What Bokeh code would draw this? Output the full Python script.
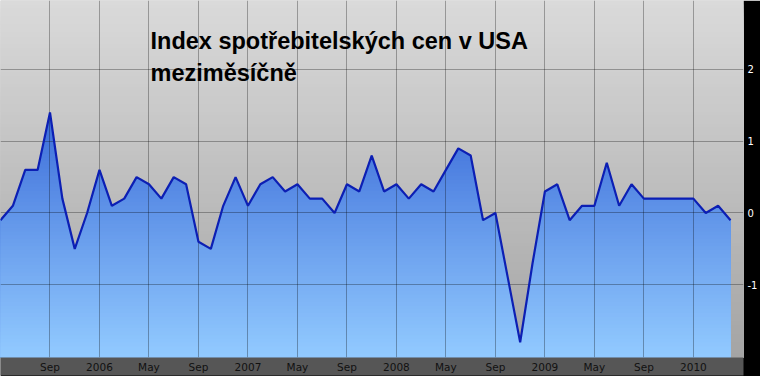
import numpy as np
from bokeh.plotting import figure
from bokeh.models import Range1d, FixedTicker, Label, ColumnDataSource
from bokeh.embed import file_html
from bokeh.resources import INLINE

# ---- data (month-on-month CPI change, %) ----
months = [
    "2005-05", "2005-06", "2005-07", "2005-08", "2005-09", "2005-10", "2005-11", "2005-12",
    "2006-01", "2006-02", "2006-03", "2006-04", "2006-05", "2006-06", "2006-07", "2006-08",
    "2006-09", "2006-10", "2006-11", "2006-12",
    "2007-01", "2007-02", "2007-03", "2007-04", "2007-05", "2007-06", "2007-07", "2007-08",
    "2007-09", "2007-10", "2007-11", "2007-12",
    "2008-01", "2008-02", "2008-03", "2008-04", "2008-05", "2008-06", "2008-07", "2008-08",
    "2008-09", "2008-10", "2008-11", "2008-12",
    "2009-01", "2009-02", "2009-03", "2009-04", "2009-05", "2009-06", "2009-07", "2009-08",
    "2009-09", "2009-10", "2009-11", "2009-12",
    "2010-01", "2010-02", "2010-03", "2010-04",
]
cpi_mom = [
    -0.1, 0.1, 0.6, 0.6, 1.4, 0.2, -0.5, 0.0,
    0.6, 0.1, 0.2, 0.5, 0.4, 0.2, 0.5, 0.4,
    -0.4, -0.5, 0.1, 0.5,
    0.1, 0.4, 0.5, 0.3, 0.4, 0.2, 0.2, 0.0,
    0.4, 0.3, 0.8, 0.3,
    0.4, 0.2, 0.4, 0.3, 0.6, 0.9, 0.8, -0.1,
    0.0, -0.9, -1.8, -0.7,
    0.3, 0.4, -0.1, 0.1, 0.1, 0.7, 0.1, 0.4,
    0.2, 0.2, 0.2, 0.2,
    0.2, 0.0, 0.1, -0.1,
]
tick_index = [0, 4, 8, 12, 16, 20, 24, 28, 32, 36, 40, 44, 48, 52, 56]
tick_labels = ["", "Sep", "2006", "May", "Sep", "2007", "May", "Sep", "2008",
               "May", "Sep", "2009", "May", "Sep", "2010"]
y_ticks = [-1, 0, 1, 2]
y_tick_labels = ["-1", "0", "1", "2"]
title_lines = ["Index spotřebitelských cen v USA", "meziměsíčně"]

# ---- geometry ----
X_MIN, X_MAX = 0.0, 60.05
Y_MIN, Y_MAX = -2.013, 2.96

x = np.arange(len(cpi_mom), dtype=float)
y = np.array(cpi_mom, dtype=float)


def hex_to_rgb(h):
    h = h.lstrip("#")
    return np.array([int(h[i:i + 2], 16) for i in (0, 2, 4)], dtype=float)


def mix(c0, c1, t):
    a, b = hex_to_rgb(c0), hex_to_rgb(c1)
    c = np.clip(np.round(a + (b - a) * t), 0, 255).astype(int)
    return "#%02x%02x%02x" % tuple(c)


p = figure(
    width=760, height=376,
    x_range=Range1d(X_MIN, X_MAX), y_range=Range1d(Y_MIN, Y_MAX),
    y_axis_location="right",
    toolbar_location=None, output_backend="svg",
    min_border_left=0, min_border_top=0, min_border_right=17, min_border_bottom=19,
    border_fill_color="black", background_fill_color="#c0c0c0",
)
p.outline_line_color = None

# ---- background vertical gray gradient (cumulative bands) ----
NB = 90
bg_tops = [Y_MAX - i * (Y_MAX - Y_MIN) / NB for i in range(NB)]
bg_cols = [mix("#dadada", "#a4a4a4", (i + 0.5) / NB) for i in range(NB)]
p.quad(left=X_MIN, right=X_MAX, bottom=Y_MIN, top=bg_tops,
       fill_color=bg_cols, line_color=None, level="image")

# ---- blue gradient area under the line (cumulative bands) ----
xf = np.union1d(np.linspace(x[0], x[-1], 1500), x)
yf = np.interp(xf, x, y)
NA = 70
TOP_A = 1.6
patch_xs, patch_ys, patch_cols = [], [], []
for k in range(NA):
    hi = Y_MAX if k == 0 else TOP_A - k * (TOP_A - Y_MIN) / NA
    mid = TOP_A - (k + 0.5) * (TOP_A - Y_MIN) / NA
    t = (TOP_A - mid) / (TOP_A - Y_MIN)
    top_edge = np.minimum(yf, hi)
    patch_xs.append(np.concatenate([xf, xf[::-1]]))
    patch_ys.append(np.concatenate([top_edge, np.full(len(xf), Y_MIN)]))
    patch_cols.append(mix("#3262d4", "#92caff", t ** 0.9))
p.patches(xs=patch_xs, ys=patch_ys, fill_color=patch_cols, line_color=None, level="image")

# ---- line ----
src = ColumnDataSource(dict(x=x, y=y, month=months))
p.line("x", "y", source=src, line_color="#0c1fb4", line_width=2.2, level="glyph")

# ---- grids ----
for g in (p.xgrid, p.ygrid):
    g.grid_line_color = "black"
    g.grid_line_alpha = 0.3
    g.grid_line_width = 1
    g.level = "underlay"

# ---- axes ----
xa = p.xaxis[0]
xa.ticker = FixedTicker(ticks=tick_index)
xa.major_label_overrides = {i: lab for i, lab in zip(tick_index, tick_labels)}
xa.axis_line_color = None
xa.major_tick_line_color = None
xa.minor_tick_line_color = None
xa.major_tick_out = 0
xa.major_tick_in = 0
xa.major_label_standoff = 3
xa.major_label_text_font = "DejaVu Sans"
xa.major_label_text_font_size = "10.5px"
xa.major_label_text_color = "#111111"
if hasattr(type(xa), "background_fill_color"):
    xa.background_fill_color = "#565656"

ya = p.yaxis[0]
ya.ticker = FixedTicker(ticks=y_ticks)
ya.major_label_overrides = {v: lab for v, lab in zip(y_ticks, y_tick_labels)}
ya.axis_line_color = None
ya.major_tick_line_color = None
ya.minor_tick_line_color = None
ya.major_tick_out = 0
ya.major_tick_in = 0
ya.major_label_standoff = 4
ya.major_label_text_font = "DejaVu Sans"
ya.major_label_text_font_size = "10px"
ya.major_label_text_color = "white"

# ---- title (two lines) ----
for line_text, sy in zip(title_lines, [317, 285]):
    p.add_layout(Label(
        x=150, y=sy, x_units="screen", y_units="screen", text=line_text,
        text_font="Liberation Sans", text_font_style="bold", text_font_size="23.5px",
        text_color="black", text_baseline="alphabetic", text_align="left",
    ))

open("out.html", "w").write(file_html(p, INLINE))
